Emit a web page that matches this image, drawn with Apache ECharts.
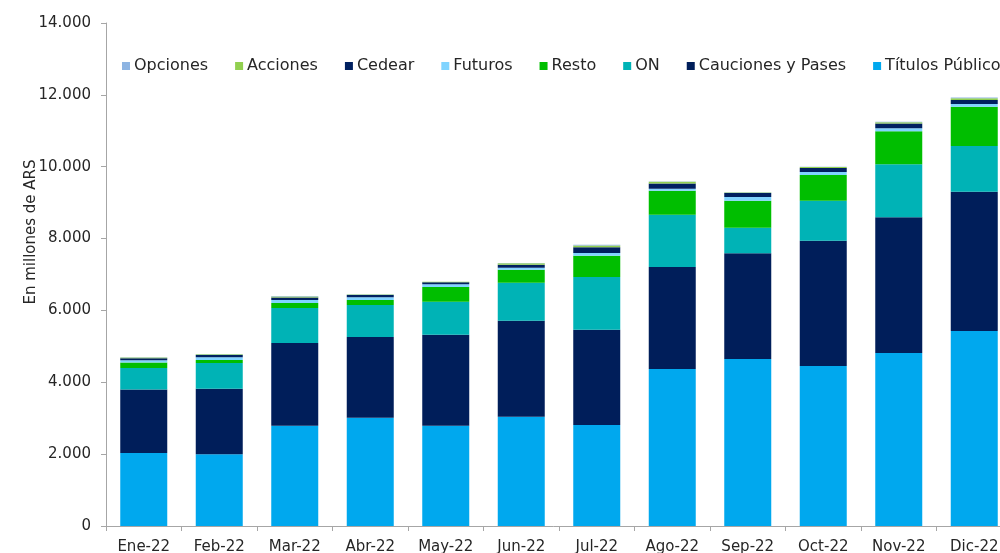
<!DOCTYPE html>
<html>
<head>
<meta charset="utf-8">
<script src="https://cdn.jsdelivr.net/npm/echarts@6/dist/echarts.min.js"></script>
<style>
  html, body { margin: 0; padding: 0; background: #fff; }
  #chart { width: 1000px; height: 553px; }
</style>
</head>
<body>
<div id="chart"></div>
<script>
var months = ['Ene-22','Feb-22','Mar-22','Abr-22','May-22','Jun-22','Jul-22','Ago-22','Sep-22','Oct-22','Nov-22','Dic-22']
// stacked from bottom to top, en millones de ARS
var titulosPublicos = [2030, 2000, 2790, 3010, 2790, 3040, 2810, 4370, 4650, 4450, 4815, 5430]
var caucionesPases  = [1770, 1820, 2300, 2250, 2530, 2670, 2650, 2840, 2940, 3490, 3775, 3875]
var on              = [ 600,  720,  980,  890,  920, 1060, 1470, 1450,  710, 1115, 1480, 1270]
var resto           = [ 150,   80,  135,  140,  410,  360,  590,  670,  755,  715,  920, 1095]
var futuros         = [  60,   80,   85,   80,   80,   60,   80,   60,  100,   80,   80,   75]
var cedear          = [  60,   60,   70,   60,   55,   80,  160,  140,  115,  115,  130,  110]
var acciones        = [  20,   20,   30,   15,   10,   40,   50,   50,   15,   25,   40,   50]
var opciones        = [  10,   10,   10,    5,    5,   10,   20,   10,    5,   10,   10,   20]
var legendOrder = ['Opciones','Acciones','Cedear','Futuros','Resto','ON','Cauciones y Pases','Títulos Públicos']

var font = 'DejaVu Sans'
var myChart = echarts.init(document.getElementById('chart'))

function bar(name, data, color) {
    return {
        name: name,
        type: 'bar',
        stack: 'total',
        barWidth: 47,
        data: data,
        itemStyle: { color: color },
        emphasis: { disabled: true }
    }
}

var option = {
    animation: false,
    textStyle: { fontFamily: font },
    legend: {
        data: legendOrder,
        top: 53,
        left: 117,
        width: 1200,
        icon: 'rect',
        itemWidth: 8,
        itemHeight: 8,
        itemGap: 27,
        textStyle: { fontSize: 16, color: '#262626', fontFamily: font, padding: [0, 0, 0, -1] }
    },
    grid: {
        left: 106,
        width: 906,
        top: 23,
        bottom: 27,
        containLabel: false,
        outerBoundsMode: 'none'
    },
    xAxis: {
        type: 'category',
        data: months,
        axisLine: { lineStyle: { color: '#a6a6a6', width: 1 } },
        axisTick: { show: true, length: 5, lineStyle: { color: '#a6a6a6' } },
        axisLabel: { fontSize: 15, color: '#262626', margin: 14 }
    },
    yAxis: {
        type: 'value',
        min: 0,
        max: 14000,
        interval: 2000,
        axisLine: { show: true, lineStyle: { color: '#a6a6a6', width: 1 } },
        axisTick: { show: true, length: 5, lineStyle: { color: '#a6a6a6' } },
        splitLine: { show: false },
        axisLabel: {
            fontSize: 15,
            color: '#262626',
            margin: 15,
            formatter: function (v) {
                return v.toString().replace(/\B(?=(\d{3})+(?!\d))/g, '.')
            }
        }
    },
    graphic: [
        {
            type: 'text',
            rotation: Math.PI / 2,
            x: 31,
            y: 232,
            style: {
                text: 'En millones de ARS',
                fontSize: 15,
                fill: '#262626',
                fontFamily: font,
                textAlign: 'center',
                textVerticalAlign: 'middle'
            }
        }
    ],
    series: [
        bar('Títulos Públicos', titulosPublicos, '#00a8ee'),
        bar('Cauciones y Pases', caucionesPases, '#001e5a'),
        bar('ON', on, '#00b3b6'),
        bar('Resto', resto, '#00be00'),
        bar('Futuros', futuros, '#80d4ff'),
        bar('Cedear', cedear, '#002060'),
        bar('Acciones', acciones, '#92d050'),
        bar('Opciones', opciones, '#8db4e2')
    ]
}
myChart.setOption(option)
</script>
</body>
</html>
